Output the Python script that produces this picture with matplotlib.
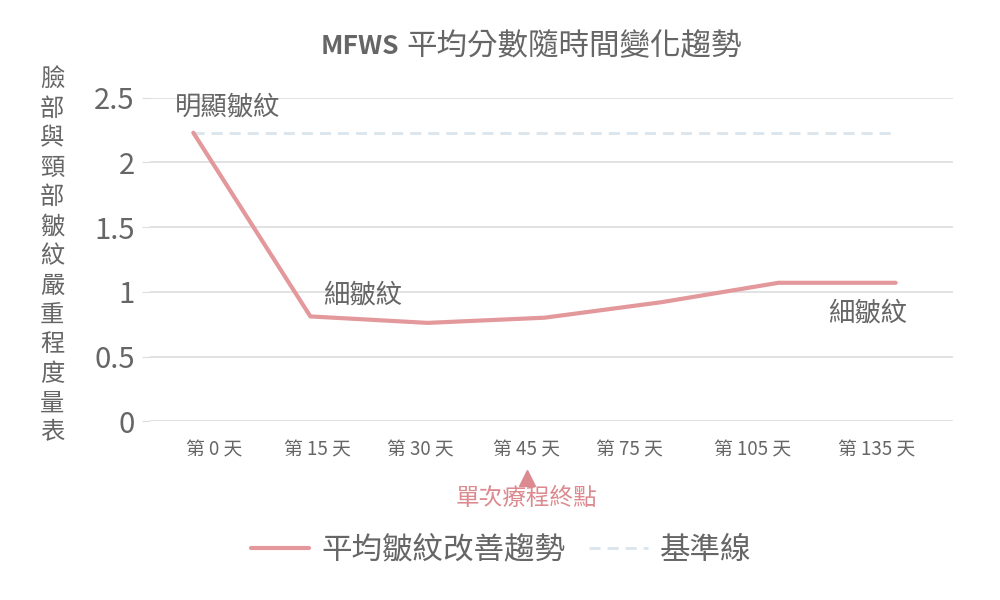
import matplotlib
matplotlib.use("Agg")
import matplotlib.pyplot as plt
import matplotlib.transforms as mtransforms

plt.rcParams["font.family"] = ["Noto Sans CJK TC", "DejaVu Sans"]

# ========== 資料 ==========
days = ["第 0 天", "第 15 天", "第 30 天", "第 45 天", "第 75 天", "第 105 天", "第 135 天"]
avg_score = [2.23, 0.81, 0.76, 0.80, 0.92, 1.07, 1.07]
baseline = [2.23, 2.23, 2.23, 2.23, 2.23, 2.23, 2.23]
y_ticks = [0, 0.5, 1, 1.5, 2, 2.5]
y_tick_labels = ["0", "0.5", "1", "1.5", "2", "2.5"]
notes = ["明顯皺紋", "細皺紋", "細皺紋"]
note_idx = [0, 1, 6]
end_idx = 3

# 標籤位置（與點位略有錯開，照原圖）
label_pos = [0.18, 1.06, 1.94, 2.85, 3.73, 4.78, 5.84]

TEXT = "#666666"
PINK = "#e3989c"
BASE = "#dbe5ed"
GRID = "#dddddd"

fig = plt.figure(figsize=(10, 6), dpi=100)
ax = fig.add_axes([0.150, 0.298, 0.803, 0.539])

x = list(range(len(days)))
ax.plot(x, baseline, color=BASE, lw=2, dashes=(4, 2.5), label="基準線", zorder=2)
ax.plot(x, avg_score, color=PINK, lw=3, label="平均皺紋改善趨勢", zorder=3,
        solid_capstyle="round")

ax.set_xlim(-0.37, 6.49)
ax.set_ylim(0, 2.5)
ax.set_yticks(y_ticks)
ax.set_yticklabels(y_tick_labels, fontsize=21, color=TEXT)
ax.set_xticks(label_pos)
ax.set_xticklabels(days, fontsize=13.5, color=TEXT)
ax.tick_params(axis="y", length=6, color=GRID, pad=5)
ax.tick_params(axis="x", length=0, pad=13)
ax.grid(axis="y", color=GRID, lw=1.2)
ax.set_axisbelow(True)
for s in ax.spines.values():
    s.set_visible(False)

# 註解文字
offsets = [(-0.16, 0.20), (1.11, 0.165), (5.42, -0.234)]
for i, t, (ox, oy) in zip(note_idx, notes, offsets):
    ax.text(ox, avg_score[i] + oy, t, fontsize=19, color=TEXT,
            ha="left", va="center")

# 療程終點標記
trans = mtransforms.blended_transform_factory(ax.transData, ax.transAxes)
ax.plot([label_pos[end_idx]], [-0.175], marker="^", ms=12, color="#dc8a8f",
        transform=trans, clip_on=False)
ax.text(label_pos[end_idx], -0.24, "單次療程終點", transform=trans, fontsize=17,
        color="#dc8a8f", ha="center", va="center")

# Y 軸標題（直排）
fig.text(0.052, 0.573, "\n".join("臉部與頸部皺紋嚴重程度量表"), fontsize=17.5,
         color=TEXT, ha="center", va="center", linespacing=1.17)

fig.text(0.399, 0.922, "MFWS", fontsize=19, color=TEXT, weight="bold",
         ha="right", va="center")
fig.text(0.406, 0.922, "平均分數隨時間變化趨勢", fontsize=22, color=TEXT,
         ha="left", va="center")

h, l = ax.get_legend_handles_labels()
fig.legend(h[::-1], l[::-1], loc="center", bbox_to_anchor=(0.501, 0.083), ncol=2,
           frameon=False, fontsize=22, handlelength=1.9, handletextpad=0.4,
           columnspacing=0.8, labelcolor=TEXT)

fig.savefig("out.png", dpi=100)
